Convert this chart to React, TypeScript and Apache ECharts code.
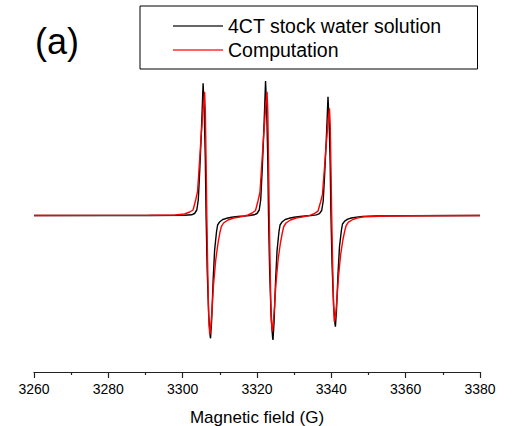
import React, { useEffect, useRef } from "react";
import * as echarts from "echarts";

// Experimental spectrum (black): magnetic field (G) and intensity (a.u.)
const fieldExp = [
  3260, 3280, 3291.1, 3300.5, 3302.4, 3303.2, 3303.8, 3304.2, 3304.6, 3305.0,
  3305.3, 3305.5, 3305.8, 3306.1, 3306.3, 3306.6, 3307.0, 3307.4, 3307.5, 3307.8,
  3308.2, 3308.6, 3309.1, 3309.4, 3310.0, 3310.8, 3311.8, 3313.2, 3314.8, 3316.5,
  3318.0, 3319.2, 3320.0, 3320.6, 3321.0, 3321.4, 3321.8, 3322.1, 3322.3, 3322.6,
  3322.9, 3323.1, 3323.4, 3323.8, 3324.2, 3324.3, 3324.6, 3325.0, 3325.4, 3325.9,
  3326.2, 3326.8, 3327.6, 3328.6, 3330.0, 3331.6, 3333.0, 3334.5, 3336.0, 3336.8,
  3337.4, 3337.8, 3338.2, 3338.6, 3338.9, 3339.1, 3339.4, 3339.7, 3339.9, 3340.2,
  3340.6, 3341.0, 3341.1, 3341.4, 3341.8, 3342.2, 3342.7, 3343.0, 3343.6, 3344.4,
  3345.4, 3346.8, 3348.4, 3352, 3360, 3380,
];
const intensityExp = [
  0, 0, 0, 0.2, 0.7, 2, 5.5, 15.5, 45.5, 80.5,
  110.5, 132.2, 105.5, 55.5, 0.5, -54.5, -99.5, -120.5, -122.8, -104.5,
  -64.5, -34.5, -16.5, -9.5, -6.2, -4, -2.8, -1.8, -1, -0.5,
  0, 0.7, 2, 5.5, 15.5, 46, 81, 112, 134.5, 107,
  56, 0.5, -55, -101, -122, -124.5, -106, -65, -35, -16.5,
  -9.5, -6.2, -4, -2.8, -1.8, -1, -0.5, 0, 0.6, 1.8,
  5, 14, 41, 72, 99, 118.8, 95, 50, 0.5, -49,
  -90, -109, -111.2, -94, -58, -31, -15, -8.5, -5.6, -3.6,
  -2.5, -1.6, -0.9, -0.5, -0.2, 0,
];

// Computed spectrum (red)
const fieldCalc = [
  3260, 3280, 3291.1, 3297.9, 3300.5, 3301.9, 3302.8, 3303.5, 3304.0, 3304.3,
  3304.6, 3304.9, 3305.2, 3305.5, 3305.9, 3306.1, 3306.3, 3306.5, 3306.7, 3306.9,
  3307.1, 3307.3, 3307.5, 3307.9, 3308.3, 3308.9, 3309.5, 3310.0, 3310.4, 3311.0,
  3312.2, 3313.7, 3315.3, 3316.6, 3317.6, 3318.7, 3319.6, 3320.3, 3320.8, 3321.1,
  3321.4, 3321.7, 3322.0, 3322.3, 3322.7, 3322.9, 3323.1, 3323.3, 3323.5, 3323.7,
  3323.9, 3324.1, 3324.3, 3324.7, 3325.1, 3325.7, 3326.3, 3326.8, 3327.2, 3327.8,
  3329.0, 3330.5, 3332.1, 3333.4, 3334.4, 3335.5, 3336.4, 3337.1, 3337.6, 3337.9,
  3338.2, 3338.5, 3338.8, 3339.1, 3339.5, 3339.7, 3339.9, 3340.1, 3340.3, 3340.5,
  3340.7, 3340.8, 3341.1, 3341.5, 3341.9, 3342.5, 3343.1, 3343.6, 3344.0, 3344.6,
  3345.8, 3347.3, 3348.9, 3355, 3365, 3380,
];
const intensityCalc = [
  0, 0.1, 0.2, 0.5, 1.5, 3.5, 5.5, 15.5, 23.8, 40.5,
  57.5, 75.5, 90.5, 107.5, 123.8, 105.5, 55.5, 0.5, -44.5, -84.5,
  -109.5, -119.5, -114.5, -94.5, -69.5, -44.5, -27.8, -17.5, -11.2, -7.5,
  -4.5, -2.5, -1.5, -0.5, 0.5, 2.5, 5, 15, 23.5, 40.5,
  57.5, 75.5, 90.5, 107.5, 123.8, 105.5, 55.5, 0.5, -44.5, -84.5,
  -107, -116.2, -111, -92, -68, -43.5, -27.5, -17.5, -11, -7.5,
  -4.5, -2.5, -1.5, -0.6, 0.4, 2.2, 4.3, 13.5, 20.7, 35,
  50, 65.5, 78.5, 93, 107.2, 91, 48, 0.4, -39.5, -75,
  -97, -106.2, -102, -84, -62, -39.5, -24.5, -15.5, -10, -6.7,
  -4, -2.2, -1.3, -0.5, -0.2, 0,
];

const seriesNames = ["4CT stock water solution", "Computation"];
const xTicks = { min: 3260, max: 3380, interval: 20 };
const axisTitle = "Magnetic field (G)";
const panelLabel = "(a)";

const FONT = "'Liberation Sans', Arial, sans-serif";

export default function App() {
  const ref = useRef<HTMLDivElement>(null);
  useEffect(() => {
    if (!ref.current) return;
    const chart = echarts.init(ref.current, undefined, { renderer: "svg" });
    const exp = fieldExp.map((x, i) => [x, intensityExp[i]]);
    const calc = fieldCalc.map((x, i) => [x, intensityCalc[i]]);
    chart.setOption({
      animation: false,
      backgroundColor: "#ffffff",
      grid: { left: 34, right: 40, top: 60, bottom: 54, containLabel: false, outerBoundsMode: "none" },
      legend: {
        orient: "vertical",
        left: 140,
        top: 6,
        selectedMode: false,
        itemWidth: 50,
        itemHeight: 1.3,
        itemGap: 4,
        padding: [10, 36, 9, 33],
        borderColor: "#000",
        borderWidth: 1,
        textStyle: { fontSize: 19.5, fontFamily: FONT, color: "#000" },
        data: [
          { name: seriesNames[0], icon: "rect", itemStyle: { color: "#333" } },
          { name: seriesNames[1], icon: "rect", itemStyle: { color: "#ff3030" } },
        ],
      },
      xAxis: {
        type: "value",
        min: xTicks.min,
        max: xTicks.max,
        interval: xTicks.interval,
        name: axisTitle,
        nameLocation: "middle",
        nameGap: 36,
        nameTextStyle: { fontSize: 17, lineHeight: 18, fontFamily: FONT, color: "#000" },
        axisLine: { show: true, onZero: false, lineStyle: { color: "#222", width: 1.2 } },
        axisTick: { show: true, inside: false, length: 6, lineStyle: { color: "#222", width: 1.2 } },
        minorTick: { show: true, splitNumber: 2, length: 3, lineStyle: { color: "#222", width: 1.2 } },
        axisLabel: {
          fontSize: 14,
          fontFamily: FONT,
          color: "#000",
          margin: 10,
          formatter: (v: number) => String(v),
        },
        splitLine: { show: false },
      },
      yAxis: {
        type: "value",
        min: -156.5,
        max: 155.5,
        show: false,
        splitLine: { show: false },
      },
      graphic: [
        {
          type: "text",
          x: 35,
          y: 41,
          style: {
            text: panelLabel,
            fontSize: 36,
            fontFamily: FONT,
            fill: "#000",
            verticalAlign: "middle",
          },
        },
      ],
      series: [
        {
          name: seriesNames[0],
          type: "line",
          data: exp,
          symbol: "none",
          showSymbol: false,
          lineStyle: { color: "#000", width: 1.4 },
          itemStyle: { color: "#000" },
          z: 2,
        },
        {
          name: seriesNames[1],
          type: "line",
          data: calc,
          symbol: "none",
          showSymbol: false,
          lineStyle: { color: "#ff0000", width: 1.4 },
          itemStyle: { color: "#ff0000" },
          z: 3,
        },
      ],
    });
    return () => chart.dispose();
  }, []);
  return (
    <div
      ref={ref}
      style={{ position: "fixed", left: 0, top: 0, width: 520, height: 426 }}
    />
  );
}
